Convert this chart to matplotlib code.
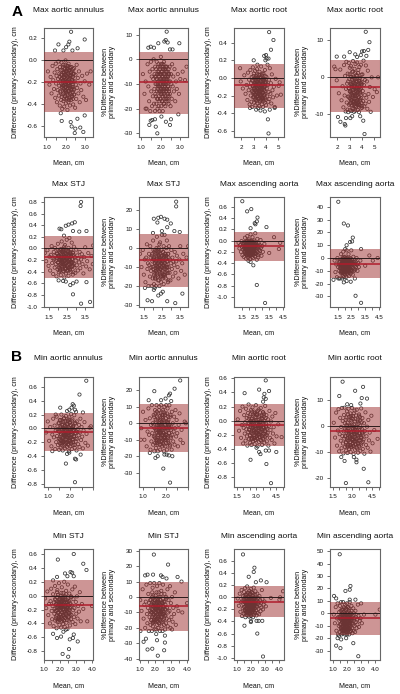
import matplotlib
matplotlib.use("Agg")
import matplotlib.pyplot as plt

plt.rcParams['font.family'] = ['Liberation Sans', 'DejaVu Sans']

W, H = 400, 694

# ---- core point clouds: mean (cm x100), difference (cm x100), percent difference ----
a1_x = [108,116,122,127,132,136,140,143,146,149,
151,153,155,157,159,161,163,165,167,168,
170,171,173,174,176,177,179,180,181,183,
184,185,186,188,189,190,191,192,193,195,
196,197,198,199,200,201,202,203,204,205,
206,207,208,209,210,211,212,213,214,215,
216,217,218,219,220,222,223,224,225,226,
228,229,230,232,233,235,236,238,240,241,
243,245,246,248,250,252,254,256,258,261,
264,267,270,274,278,282,287,293,300,312,
170,172,175,178,180,182,184,186,187,189,
190,191,193,194,195,196,197,198,199,200,
201,202,203,204,205,206,207,208,209,210,
211,212,213,214,215,216,217,218,219,220,
221,222,223,224,225,226,227,228,229,230,
231,232,233,234,235,236,237,238,239,240,
241,242,243,244,178,186,194,202,210,218]
a1_d = [-10,-22,-15,-30,-5,-18,-26,-11,-34,-3,
-21,-14,-38,-8,-27,-17,-1,-32,-23,-12,
-41,-6,-19,-29,-13,-36,-2,-24,-16,-44,
-9,-31,-20,-4,-37,-15,-26,-11,-42,-7,
-22,-33,-18,-28,0,-13,-39,-24,-10,-35,
-19,-5,-30,-16,-45,-8,-25,-21,-12,-38,
-3,-28,-17,-34,-9,-23,-41,-14,-29,-6,
-20,-36,-11,-26,-18,-33,-15,-24,-40,-12,
-27,-7,-31,-19,-43,-13,-22,-35,-4,-25,
-16,-30,-10,-38,-21,-27,-14,-33,-19,-12,
-15,-28,-9,-21,-33,-13,-25,-6,-18,-30,
-11,-23,-35,-16,-8,-27,-20,-32,-12,-4,
-24,-17,-29,-10,-22,-14,-34,-7,-26,-19,
-31,-15,-5,-23,-12,-28,-18,-36,-9,-21,
-13,-30,-25,-7,-16,-33,-11,-20,-27,-14,
-6,-24,-18,-32,-10,-22,-29,-15,-35,-8,
-19,-26,-12,-31,-17,-23,-13,-27,-9,-21]
a1_p = [-6,-14,-9,-20,-2,-11,-17,-5,-21,-1,
-13,-7,-19,-4,-15,-8,0,-18,-12,-6,
-21,-3,-10,-15,-7,-18,-1,-13,-8,-20,
-5,-16,-10,-2,-19,-7,-13,-6,-21,-3,
-11,-16,-9,-14,1,-6,-19,-12,-5,-17,
-9,-2,-14,-8,-21,-4,-12,-10,-6,-18,
-1,-13,-8,-16,-4,-11,-19,-7,-13,-3,
-9,-17,-5,-12,-8,-15,-7,-11,-18,-6,
-12,-3,-14,-9,-19,-6,-10,-16,-2,-11,
-7,-13,-4,-17,-9,-12,-6,-14,-8,-5,
-7,-14,-4,-10,-16,-6,-12,-3,-9,-15,
-5,-11,-17,-8,-4,-13,-10,-16,-6,-2,
-12,-8,-14,-5,-11,-7,-17,-3,-13,-9,
-15,-7,-2,-11,-6,-14,-9,-18,-4,-10,
-6,-15,-12,-3,-8,-16,-5,-10,-13,-7,
-3,-12,-9,-16,-5,-11,-14,-7,-17,-4,
-9,-13,-6,-15,-8,-11,-6,-13,-4,-10]

a2_x = [195,212,224,234,242,249,254,259,263,267,
270,273,276,279,282,284,286,288,291,293,
295,297,299,301,303,305,307,309,311,313,
315,317,319,320,322,324,326,327,329,331,
333,334,336,337,339,341,342,344,345,347,
349,350,352,354,355,357,358,360,362,363,
365,367,368,370,372,373,375,377,379,381,
383,385,387,389,391,393,395,398,400,403,
406,409,412,415,418,421,424,427,431,435,
439,443,447,452,457,463,470,478,488,502,
288,292,296,299,302,305,308,310,313,315,
317,319,321,323,325,327,329,331,332,334,
336,338,339,341,343,345,346,348,350,352,
353,355,357,359,360,362,364,366,368,370,
372,374,376,378,380,382,384,386,388,391,
393,395,397,300,312,324,336,348,360,372,
384,396,306,318,330,342,354,366,378,390]
a2_d = [-4,-12,3,-18,-8,-25,6,-14,-2,-30,
-10,9,-20,-6,-27,1,-15,-33,-9,12,
-22,-3,-17,5,-28,-11,-1,-24,8,-13,
-31,-7,-19,2,-26,-5,-16,10,-29,-12,
-21,-2,-34,-9,4,-23,-14,-6,-32,7,
-18,-11,-27,0,-15,-4,-25,13,-20,-8,
-30,3,-13,-22,-1,-17,-33,-7,5,-26,
-10,-19,-3,-28,9,-15,-23,-5,-31,1,
-12,-21,15,-8,-27,-16,-2,-24,11,-18,
-6,-29,4,-14,-22,-10,-33,-1,-20,-9,
-3,-16,-9,2,-22,-12,-6,-19,0,-14,
-25,-8,-2,-17,-11,4,-21,-5,-13,-24,
-7,-18,-1,-10,-23,-15,3,-6,-20,-12,
-26,-4,-16,-9,1,-19,-13,-22,-7,5,
-11,-17,-3,-24,-8,-14,-1,-20,-10,-5,
-18,2,-25,-12,-6,-15,-21,-2,-9,-23,
-13,-4,-19,-7,0,-16,-11,-24,-3,-10]
a2_p = [-0.8,-4.3,2.1,-6.2,-2.4,-8.1,3.3,-4.9,0.4,-9.2,
-3.1,4.2,-6.8,-1.7,-8.7,1.0,-5.2,-9.4,-2.9,3.9,
-7.4,-0.5,-5.6,2.6,-8.9,-3.6,0.2,-7.0,3.0,-4.2,
-9.1,-2.0,-6.1,1.5,-8.3,-1.2,-5.0,4.4,-8.6,-3.3,
-6.5,-0.1,-9.3,-2.7,2.3,-7.7,-4.6,-1.6,-9.0,3.6,
-5.8,-3.0,-8.0,0.6,-4.4,-1.0,-7.2,4.0,-6.3,-2.2,
-8.8,1.2,-4.0,-6.7,-0.3,-5.4,-9.4,-2.5,2.8,-7.5,
-3.4,-5.9,-1.4,-8.4,3.4,-4.7,-6.9,-1.9,-8.2,0.8,
-3.7,-6.4,4.5,-2.1,-7.8,-4.8,-0.7,-7.1,3.2,-5.5,
-1.1,-8.5,1.8,-4.5,-6.6,-2.6,-9.3,0.0,-5.3,-3.2,
-1.1,-5.2,-3.0,0.8,-7.1,-3.9,-1.9,-6.2,0.1,-4.5,
-7.6,-2.6,-0.7,-5.5,-3.5,1.6,-6.8,-1.5,-4.2,-7.3,
-2.2,-5.8,-0.3,-3.2,-7.0,-4.8,1.1,-1.8,-6.4,-3.7,
-7.8,-1.3,-5.0,-2.8,0.4,-6.0,-4.0,-6.9,-2.1,2.0,
-3.4,-5.4,-0.9,-7.4,-2.4,-4.4,-0.2,-6.3,-3.1,-1.6,
-5.6,0.7,-7.7,-3.8,-1.7,-4.7,-6.6,-0.5,-2.7,-7.2,
-4.1,-1.2,-5.9,-2.3,0.2,-5.1,-3.3,-7.5,-1.0,-3.0]

a3_x = [128,136,143,149,154,158,162,166,169,172,
175,178,180,183,185,187,189,191,193,195,
197,199,201,203,204,206,208,209,211,213,
214,216,217,219,220,222,223,225,226,228,
229,231,232,234,235,237,238,240,241,243,
244,246,247,249,250,252,253,255,257,258,
260,262,263,265,267,268,270,272,274,276,
278,280,282,284,286,288,290,293,295,298,
300,303,306,309,312,315,319,322,326,330,
334,338,343,348,353,358,364,370,378,388,
197,200,203,206,208,210,212,214,216,218,
220,221,223,224,226,227,229,230,232,233,
235,236,238,239,241,242,244,245,247,248,
250,251,253,254,256,257,259,260,262,264,
265,267,269,271,273,275,277,279,281,284,
287,205,215,225,235,245,255,265,275,285,
202,213,222,231,240,249,258,268,278,288]
a3_d = [-8,-22,-3,-30,-14,-38,-11,4,-25,-17,
-44,-6,-19,-33,1,-12,-27,-21,-48,-9,
-16,-36,8,-24,-13,-41,-5,-29,-18,-2,
-35,-20,-46,-10,-26,12,-15,-32,-7,-23,
-39,-17,-1,-28,-12,-50,-21,6,-34,-14,
-25,-43,-9,-19,15,-31,-16,-37,-4,-22,
-47,-11,-27,18,-20,-35,-6,-40,-13,-24,
10,-30,-18,-45,-8,-26,3,-33,-15,-42,
-21,-2,-29,-12,-38,-17,-24,-6,-34,-19,
-10,-27,-43,-15,2,-31,-22,-8,-36,-13,
-9,-24,-3,-33,-14,-20,-38,-7,-28,-17,
-1,-30,-12,-23,-36,-5,-19,-26,-10,-40,
-15,3,-31,-21,-8,-27,-13,-35,-18,-4,
-25,-11,-39,-16,-29,-6,-22,1,-34,-13,
-20,-37,-9,-26,-15,-2,-32,-18,-24,-7,
-41,-12,-28,-20,-5,-35,-16,-23,-10,-30,
-14,-38,-21,-3,-27,-17,-33,-8,-25,-11]
a3_p = [-3,-10,-1,-14,-6,-18,-5,2,-11,-8,
-20,-3,-9,-15,1,-5,-12,-10,-20,-4,
-7,-16,4,-11,-6,-19,-2,-13,-8,-1,
-15,-9,-20,-4,-11,6,-6,-14,-3,-10,
-17,-7,0,-12,-5,-20,-9,3,-14,-6,
-10,-18,-4,-8,7,-13,-6,-15,-2,-9,
-19,-4,-11,7,-8,-14,-3,-16,-5,-9,
4,-12,-7,-18,-3,-10,1,-13,-6,-17,
-8,-1,-11,-5,-15,-7,-9,-2,-13,-7,
-4,-10,-16,-6,1,-12,-8,-3,-14,-5,
-3,-10,-1,-14,-6,-8,-16,-3,-12,-7,
0,-13,-5,-10,-15,-2,-8,-11,-4,-17,
-6,2,-13,-9,-3,-11,-5,-15,-8,-1,
-10,-4,-16,-7,-12,-2,-9,1,-14,-5,
-8,-15,-4,-11,-6,0,-13,-7,-10,-3,
-17,-5,-12,-8,-2,-15,-7,-10,-4,-13,
-6,-16,-9,-1,-11,-7,-14,-3,-10,-5]

a4_x = [128,134,140,145,149,153,156,159,162,164,
166,168,170,172,174,176,177,179,180,182,
183,184,186,187,188,190,191,192,193,195,
196,197,198,199,200,202,203,204,205,206,
207,209,210,211,212,213,214,215,217,218,
219,220,221,222,223,224,226,227,228,229,
230,231,232,233,235,236,237,238,239,241,
242,243,245,246,247,249,250,252,253,255,
257,258,260,262,264,266,268,270,272,274,
276,278,281,284,287,290,294,298,304,315,
168,171,173,175,177,179,181,183,185,186,
188,189,191,192,193,194,196,197,198,200,
201,202,203,204,206,207,208,209,210,211,
213,214,215,216,217,219,220,221,222,224,
225,226,228,229,231,232,234,235,237,239,
241,243,245,247,249,178,184,190,196,202,
208,214,220,226,232,238,186,198,210,222]
a4_d = [-4,-14,-8,-20,-1,-11,-26,-6,-16,-10,
-29,-3,-13,-19,5,-9,-23,-15,-7,-32,
-11,-2,-18,-25,-6,-12,8,-21,-16,-9,
-30,-4,-14,-24,-8,-19,2,-11,-27,-6,
-17,-13,-33,-9,-22,-3,-15,11,-20,-7,
-26,-12,-1,-18,-10,-29,-5,-23,-14,6,
-8,-20,-16,-31,-3,-12,-25,-9,-18,0,
-13,-22,-6,-28,-11,13,-17,-4,-24,-10,
-19,-7,-34,-14,3,-21,-9,-26,-12,-5,
-16,-23,-8,-18,1,-13,-27,-10,-20,-6,
-6,-15,-10,-21,-3,-13,-24,-8,-17,-11,
-26,-5,-19,-12,0,-22,-9,-16,-7,-25,
-13,-3,-20,-10,-18,-6,-23,-14,-1,-11,
-21,-8,-16,-26,-4,-12,-19,-7,-24,-15,
-2,-10,-22,-13,-17,-5,-25,-9,-18,-11,
-20,-4,-14,-23,-7,-16,-10,-1,-19,-12,
-26,-6,-15,-21,-9,-3,-13,-18,-8,-11]
a4_p = [-2,-11,-5,-15,0,-7,-16,-3,-10,-6,
-16,-2,-8,-11,3,-5,-12,-8,-4,-16,
-6,-1,-9,-14,-3,-6,5,-11,-8,-5,
-15,-2,-7,-12,-4,-9,1,-5,-13,-3,
-8,-6,-15,-4,-10,-1,-7,6,-9,-3,
-12,-5,0,-8,-4,-13,-2,-10,-6,3,
-3,-9,-7,-14,-1,-5,-11,-4,-8,0,
-5,-10,-2,-12,-4,6,-7,-1,-10,-4,
-8,-3,-13,-5,1,-9,-3,-10,-5,-2,
-6,-9,-3,-7,0,-5,-10,-4,-7,-2,
-3,-7,-5,-10,-1,-6,-11,-4,-8,-5,
-12,-2,-9,-6,1,-10,-4,-7,-3,-11,
-6,-1,-9,-5,-8,-3,-10,-6,0,-5,
-9,-4,-7,-11,-2,-5,-8,-3,-10,-6,
-1,-4,-9,-5,-7,-2,-10,-4,-7,-5,
-8,-2,-6,-9,-3,-6,-4,0,-7,-5,
-10,-3,-6,-8,-4,-1,-5,-7,-3,-4]

b1_x = [92,100,106,111,116,120,124,127,130,133,
135,137,139,141,143,145,147,148,150,151,
153,154,156,157,158,160,161,162,163,165,
166,167,168,169,170,172,173,174,175,176,
177,178,179,180,181,183,184,185,186,187,
188,189,190,191,193,194,195,196,197,198,
199,200,202,203,204,205,206,208,209,210,
212,213,214,216,217,219,220,222,223,225,
227,228,230,232,234,236,238,240,242,244,
247,249,252,255,258,262,266,271,277,285,
147,149,152,154,156,158,159,161,162,164,
165,166,168,169,170,171,172,173,175,176,
177,178,179,180,182,183,184,185,186,187,
189,190,191,192,193,195,196,197,198,199,
201,202,203,205,206,207,209,210,212,213,
215,217,219,221,223,225,155,163,171,179,
187,195,203,211,160,174,188,200,215,178]
b1_d = [-6,10,-18,2,-26,-9,14,-13,4,-30,
-3,-20,17,-11,-1,-24,7,-15,-31,-5,
12,-17,1,-28,-8,20,-12,-22,5,-2,
-32,-14,9,-19,-6,15,-25,0,-10,-29,
3,-16,-4,18,-21,-9,6,-27,-13,-1,
11,-23,-7,2,-33,-11,16,-18,-3,8,
-26,-14,-5,21,-20,0,-30,-9,13,-16,
4,-24,-2,-12,19,-28,-7,7,-19,-4,
-32,10,-15,-1,-23,-10,5,-27,-6,14,
-17,2,-12,-29,-3,9,-21,-8,-25,1,
-4,8,-15,-22,3,-9,-18,12,-1,-25,
-7,6,-13,-20,0,14,-11,-17,4,-6,
-23,10,-2,-16,-8,2,-21,-12,7,-4,
-19,-10,13,-24,1,-14,-5,9,-18,-2,
-9,5,-22,-13,11,-6,-16,0,-20,3,
-11,-3,-24,8,-15,-7,12,-19,-1,-10,
6,-17,-5,2,-21,-8,10,-14,-3,-12]
b1_p = [-3,7,-10,2,-14,-5,9,-7,3,-16,
-1,-11,11,-6,0,-13,5,-8,-17,-3,
8,-9,1,-15,-4,11,-6,-12,4,-1,
-17,-7,6,-10,-3,10,-13,1,-5,-16,
3,-8,-2,11,-11,-4,5,-14,-7,0,
8,-12,-3,2,-17,-6,10,-9,-1,6,
-14,-7,-2,11,-10,1,-16,-4,9,-8,
4,-12,-1,-6,11,-14,-3,5,-9,-2,
-16,7,-7,0,-11,-5,4,-13,-3,8,
-8,2,-6,-14,-1,6,-10,-4,-12,1,
-2,4,-8,-12,2,-5,-10,7,-1,-13,
-4,3,-7,-11,0,8,-6,-9,2,-3,
-13,6,-1,-9,-4,1,-11,-7,4,-2,
-10,-6,7,-13,1,-8,-3,5,-10,-1,
-5,3,-12,-7,6,-3,-9,0,-11,2,
-6,-2,-13,4,-8,-4,6,-10,-1,-5,
3,-9,-3,1,-11,-4,5,-7,-2,-6]

b2_x = [158,168,176,183,189,194,199,203,207,211,
214,217,220,223,226,228,231,233,235,238,
240,242,244,246,248,250,252,254,256,258,
260,262,264,266,268,270,272,274,276,278,
280,282,284,286,288,290,292,294,296,298,
300,302,304,306,308,310,312,314,316,319,
321,323,325,328,330,332,335,337,340,342,
345,347,350,352,355,358,360,363,366,369,
372,375,378,381,384,387,390,394,398,402,
406,410,415,420,425,430,436,443,452,465,
242,246,250,254,257,260,263,266,269,271,
274,276,279,281,283,285,288,290,292,294,
296,298,300,302,304,306,308,310,312,314,
316,318,320,322,324,326,328,331,333,335,
338,340,343,345,348,351,354,357,360,363,
366,370,374,378,255,268,280,293,305,318,
330,343,356,369,262,287,301,325,349,372]
b2_d = [2,-14,14,-24,-6,20,-32,-10,8,-18,
-2,-28,17,-12,4,-22,-35,-7,11,-16,
23,-4,-26,-13,6,-20,-31,0,-9,15,
-17,-34,3,-24,-11,19,-6,-29,9,-15,
-1,-21,13,-33,-8,5,-27,-12,22,-18,
-3,-25,10,-14,-36,1,-20,-7,16,-30,
-10,7,-23,-16,-2,18,-28,-12,4,-34,
-19,-5,12,-26,-9,0,-31,-15,21,-21,
-4,8,-29,-11,-17,2,-35,-7,14,-24,
-13,-1,-27,6,-18,-9,-32,11,-22,-5,
3,-12,-21,9,-6,-26,-15,13,-3,-18,
-9,6,-24,-13,0,-20,11,-7,-27,-16,
1,-11,-22,8,-4,-17,-25,14,-10,-2,
-19,5,-14,-23,-8,12,-1,-27,-16,-6,
-21,7,-12,2,-25,-10,-18,10,-5,-14,
-23,4,-8,-20,-2,-26,-13,9,-17,-4,
-11,-22,6,-15,0,-24,-7,-19,12,-9]
b2_p = [1.2,-4.5,5.1,-7.6,-1.8,6.4,-9.8,-3.2,3.1,-5.7,
-0.4,-8.6,6.9,-3.9,1.9,-6.8,-10.6,-2.1,4.2,-4.9,
7.0,-1.1,-8.1,-4.1,2.4,-6.2,-9.5,0.3,-2.7,5.6,
-5.3,-10.4,1.3,-7.4,-3.4,6.6,-1.9,-8.9,3.5,-4.6,
-0.2,-6.4,4.8,-10.1,-2.4,2.1,-8.3,-3.7,6.9,-5.5,
-0.9,-7.7,3.8,-4.3,-10.8,0.6,-6.1,-2.2,5.9,-9.2,
-3.1,2.7,-7.1,-5.0,-0.6,6.2,-8.7,-3.6,1.6,-10.3,
-5.8,-1.5,4.4,-8.0,-2.8,0.1,-9.6,-4.7,6.7,-6.5,
-1.2,3.0,-8.9,-3.3,-5.2,1.0,-10.7,-2.0,5.2,-7.3,
-4.0,-0.3,-8.4,2.3,-5.6,-2.6,-9.9,3.9,-6.7,-1.6,
1.0,-3.8,-6.5,3.2,-1.9,-7.9,-4.7,4.4,-0.9,-5.6,
-2.8,2.1,-7.4,-4.1,0.2,-6.2,3.7,-2.3,-8.1,-5.0,
0.5,-3.5,-6.9,2.7,-1.2,-5.3,-7.7,4.8,-3.1,-0.6,
-5.9,1.7,-4.4,-7.1,-2.5,4.0,-0.3,-8.3,-5.1,-1.8,
-6.6,2.4,-3.7,0.8,-7.6,-3.0,-5.5,3.4,-1.5,-4.3,
-7.2,1.4,-2.6,-6.1,-0.7,-8.0,-4.0,3.0,-5.2,-1.3,
-3.4,-6.8,2.0,-4.6,0.0,-7.5,-2.2,-5.8,3.9,-2.9]

b3_x = [104,112,119,125,130,135,139,143,146,149,
152,155,158,160,163,165,167,169,171,173,
175,177,179,181,182,184,186,187,189,190,
192,194,195,197,198,200,201,203,204,205,
207,208,210,211,213,214,215,217,218,220,
221,222,224,225,227,228,230,231,233,234,
236,237,239,240,242,244,245,247,248,250,
252,254,255,257,259,261,263,265,267,269,
271,273,276,278,281,283,286,289,292,295,
298,301,305,309,313,318,323,329,336,345,
167,170,173,175,177,179,181,183,185,186,
188,190,191,193,195,196,198,199,201,202,
204,205,207,208,210,211,213,214,216,217,
219,220,222,223,225,226,228,230,231,233,
235,236,238,240,242,244,246,248,250,252,
255,258,261,264,268,175,185,195,205,215,
225,235,245,255,180,192,206,218,232,247]
b3_d = [-4,-18,6,-28,-12,-40,-8,10,-22,-34,
-15,2,-44,-10,-26,-19,14,-36,-6,-30,
-13,-47,-2,-21,8,-38,-16,-25,-9,-33,
18,-11,-42,-5,-27,-17,0,-31,-20,-46,
-7,-14,12,-37,-24,-3,-29,-12,-41,4,
-19,-35,-9,20,-23,-45,-15,-1,-32,-10,
-27,7,-39,-17,-6,-22,-48,-13,16,-30,
-8,-36,-20,3,-25,-43,-11,-16,-34,-2,
-28,-14,9,-38,-21,-5,-31,-18,13,-41,
-9,-26,-1,-33,-15,-23,5,-37,-12,-19,
-5,-22,-12,-33,-17,-28,-8,-36,-14,1,
-25,-10,-19,-31,-6,-15,-35,-21,-3,-27,
-12,-18,4,-30,-9,-24,-34,-16,-7,-20,
-28,-2,-13,-36,-23,-11,-17,-32,-6,-26,
-15,-21,2,-29,-10,-35,-19,-4,-24,-13,
-31,-8,-18,-27,-1,-22,-34,-12,-16,-5,
-30,-20,-9,-25,5,-33,-14,-7,-23,-17]
b3_p = [-2,-9,5,-14,-5,-20,-3,8,-11,-17,
-7,2,-22,-4,-13,-9,9,-18,-2,-15,
-6,-22,0,-10,6,-19,-8,-12,-4,-16,
9,-5,-21,-2,-13,-8,1,-15,-10,-21,
-3,-7,7,-18,-12,-1,-14,-6,-20,3,
-9,-17,-4,9,-11,-22,-7,0,-16,-5,
-13,4,-19,-8,-3,-11,-22,-6,8,-15,
-3,-18,-10,2,-12,-21,-5,-8,-17,-1,
-14,-7,5,-19,-10,-2,-15,-9,7,-20,
-4,-13,0,-16,-7,-11,3,-18,-6,-9,
-2,-10,-5,-15,-8,-13,-3,-17,-6,1,
-11,-4,-9,-14,-2,-7,-16,-10,-1,-12,
-5,-8,3,-14,-4,-11,-16,-7,-3,-9,
-13,0,-6,-17,-10,-5,-8,-15,-2,-12,
-7,-10,2,-13,-4,-16,-9,-1,-11,-6,
-14,-3,-8,-12,0,-10,-16,-5,-7,-2,
-14,-9,-4,-11,3,-15,-6,-3,-10,-8]

b4_x = [108,116,122,127,131,135,138,141,143,146,
148,150,152,154,155,157,159,160,162,163,
165,166,167,169,170,171,172,174,175,176,
177,178,180,181,182,183,184,186,187,188,
189,190,191,192,194,195,196,197,198,199,
200,201,203,204,205,206,207,209,210,211,
213,214,215,216,218,219,220,222,223,225,
226,228,229,231,232,234,235,237,239,241,
243,245,247,249,251,253,255,258,260,262,
265,268,271,274,277,281,285,290,296,305,
152,155,157,159,161,163,165,167,168,170,
171,173,174,176,177,179,180,181,183,184,
185,187,188,189,190,192,193,194,195,197,
198,199,200,202,203,204,206,207,208,210,
211,213,214,216,217,219,221,223,225,227,
229,232,235,160,170,180,190,200,210,220,
166,176,186,196,206,216,226,178,192,204]
b4_d = [-2,-14,6,-24,-8,12,-31,-5,-18,2,
-11,-27,9,-16,-3,-22,15,-9,-33,-6,
-19,4,-13,-29,-1,-25,-10,18,-15,-7,
-30,1,-21,-12,7,-26,-4,-17,-32,-8,
11,-20,-14,-2,-28,5,-10,-23,-6,-16,
14,-31,-11,-1,-19,-27,8,-13,-5,-24,
-9,3,-33,-15,-7,-21,16,-12,-29,-3,
-18,-25,0,-10,10,-14,-6,-22,-30,-4,
-16,6,-26,-11,-1,-19,-8,-28,2,-13,
-5,-23,-9,-17,12,-3,-20,-12,-7,-15,
-5,-16,3,-21,-9,-26,-1,-13,-18,5,
-7,-24,-11,-3,-19,8,-14,-25,-6,-10,
-22,1,-16,-4,-12,-26,-8,-20,6,-2,
-15,-23,-7,-11,-18,2,-25,-5,-13,-9,
-21,7,-3,-17,-24,-10,-1,-14,-19,-6,
-26,4,-12,-8,-22,-16,0,-20,-5,-11,
-24,-2,-15,-9,9,-18,-7,-13,-23,-4]
b4_p = [-1,-8,5,-14,-4,8,-17,-3,-10,1,
-6,-15,6,-9,-2,-12,9,-5,-17,-3,
-11,3,-7,-16,0,-14,-6,9,-8,-4,
-16,1,-12,-7,4,-14,-2,-9,-17,-5,
7,-11,-8,-1,-15,3,-6,-13,-3,-9,
8,-17,-6,0,-11,-15,5,-7,-3,-13,
-5,2,-17,-8,-4,-12,9,-7,-15,-2,
-10,-14,0,-5,6,-8,-3,-12,-16,-2,
-9,4,-14,-6,0,-10,-4,-15,2,-7,
-3,-12,-5,-9,7,-2,-11,-6,-4,-8,
-3,-9,2,-12,-5,-14,-1,-7,-10,3,
-4,-13,-6,-2,-11,5,-8,-14,-3,-6,
-12,0,-9,-2,-7,-14,-4,-11,4,-1,
-8,-13,-4,-6,-10,1,-14,-3,-7,-5,
-12,4,-2,-9,-13,-5,0,-8,-11,-3,
-14,2,-6,-4,-12,-9,0,-11,-3,-6,
-13,-1,-8,-5,5,-10,-4,-7,-12,-2]

# ---- outlying points read individually: (mean cm, value) ----
a1_d_out = [(2.29,.26),(3.0,.19),(2.2,.17),(2.15,.145),(1.63,.145),(2.63,.11),(2.03,.12),(2.36,.09),(1.45,.09),(1.89,.09),(1.75,-.48),(1.8,-.55),(2.27,-.56),(2.32,-.6),(2.62,-.53),(2.51,-.62),(2.77,-.61),(2.48,-.66),(2.93,-.65),(3.0,-.5),(3.31,-.1),(3.24,-.22),(3.07,-.36)]
a1_p_out = [(2.3,11.2),(2.95,6.5),(2.18,7.2),(2.25,7.8),(2.35,6.8),(1.87,6.5),(1.36,4.7),(1.48,5.1),(1.65,4.7),(2.47,4),(2.6,4),(1.41,-26.6),(1.56,-24.6),(1.7,-24.3),(1.48,-24.9),(1.74,-27.3),(1.82,-30),(2.03,-23.2),(2.26,-25.3),(2.47,-26.6),(2.52,-24.3),(2.9,-22.3),(1.22,-20),(3.32,-3),(3.24,-8.4)]
a2_d_out = [(4.25,.52),(4.6,.43),(4.4,.32),(4.0,.26),(3.85,.25),(4.05,.22),(4.2,.22),(3.95,.2),(3.0,.2),(3.3,.15),(4.15,-.47),(4.2,-.63),(3.9,-.38),(3.55,-.37),(3.2,-.36),(4.3,-.36),(2.7,-.34),(4.7,-.34),(5.2,-.19),(5.1,-.05),(1.9,.11)]
a2_p_out = [(4.3,12.3),(4.6,9.5),(4.5,7.4),(4.0,7),(4.15,7.1),(4.35,5.8),(3.0,6.8),(1.95,5.6),(2.55,5.6),(3.45,6.2),(3.9,6),(3.6,5.5),(1.75,2.9),(1.85,2.2),(2.05,-10.7),(2.25,-12),(2.6,-12.6),(2.65,-13),(2.7,-11),(3.05,-11),(3.2,-10.5),(4.1,-11.7),(4.2,-15.3),(3.85,-10.5),(5.2,-4),(5.3,0)]
a3_d_out = [(3.3,.8),(3.27,.73),(2.95,.45),(2.8,.43),(2.6,.41),(2.45,.39),(2.2,.33),(2.1,.34),(3.2,.29),(3.6,.3),(2.85,.3),(2.35,.22),(2.05,-.55),(2.3,-.56),(2.45,-.57),(2.7,-.63),(2.85,-.6),(3.05,-.57),(3.6,-.58),(2.85,-.79),(3.3,-.95),(3.8,-.92),(3.97,.05),(3.95,-.27)]
a3_p_out = [(3.3,24.5),(3.3,22),(2.05,15.5),(2.3,16),(2.45,16.5),(2.65,15.5),(2.8,15),(2.25,13.5),(3.0,13),(2.0,8),(2.5,9),(3.2,9),(3.5,8.5),(2.8,11),(1.7,-27.5),(1.95,-28),(2.05,-22),(2.3,-25),(2.45,-24),(2.8,-28),(3.25,-29),(3.65,-24),(2.55,-23),(1.55,-21),(3.97,1),(2.1,-21)]
a4_d_out = [(1.55,.7),(1.9,.52),(2.2,.56),(2.65,.41),(2.6,.34),(2.45,.31),(2.5,.29),(2.15,.22),(3.3,.24),(3.85,.06),(4.2,-.15),(3.5,-.22),(4.3,-.04),(2.35,-.44),(2.15,-.38),(2.0,-.36),(2.6,-.79),(3.2,-1.11),(2.7,-.3)]
a4_p_out = [(1.55,44),(1.95,27),(2.25,25.5),(2.6,16),(2.55,13),(2.4,12.5),(2.15,10),(2.05,7),(3.2,7),(3.8,2),(4.4,0),(4.05,-2),(3.5,-6),(1.95,-19),(2.15,-18),(2.45,-18.5),(2.8,-29.5),(3.2,-35),(2.75,-16),(1.2,-17)]
b1_d_out = [(2.7,.69),(2.4,.49),(1.55,.3),(2.1,.35),(2.15,.33),(2.05,.3),(1.95,.27),(1.85,.25),(2.2,.27),(2.25,.24),(2.55,.23),(1.35,.2),(1.8,-.51),(1.95,-.35),(2.2,-.44),(2.25,-.45),(2.2,-.78),(1.85,-.37),(2.45,-.38),(2.9,.03),(1.2,-.33)]
b1_p_out = [(2.65,26),(2.4,21),(1.5,19.5),(2.2,18),(2.15,17),(2.0,15),(1.8,14),(1.25,14),(2.25,13.5),(1.9,-27.5),(2.2,-36),(1.55,-21),(1.65,-20),(1.95,-19),(2.05,-19),(2.15,-19.5),(2.3,-20),(2.9,0),(1.3,-18),(.9,-10)]
b2_d_out = [(3.7,.57),(3.2,.44),(3.95,.42),(2.1,.39),(3.6,.38),(3.55,.33),(3.7,.31),(3.5,.27),(2.55,-.55),(3.75,-.61),(4.1,-.88),(4.5,-.44),(3.2,-.44),(3.3,-.47),(3.95,-.42),(3.7,-.42),(3.0,-.38),(4.9,-.23)]
b2_p_out = [(2.25,17),(3.8,15),(3.2,13.5),(2.0,11.5),(3.7,10.7),(4.1,10.5),(3.6,8.6),(2.6,8.3),(2.9,8),(2.15,-12),(2.4,-13.5),(3.3,-13),(3.3,-14),(3.85,-16.5),(2.5,-22),(4.2,-21.7),(3.1,-12),(4.9,-5)]
b3_d_out = [(1.85,.52),(2.85,.6),(3.45,.46),(3.65,.37),(2.65,.34),(2.75,.33),(2.3,.32),(2.45,.28),(1.8,.27),(1.55,.22),(2.85,.28),(1.55,-.55),(1.8,-.61),(2.05,-.59),(2.2,-.52),(2.35,-.49),(2.6,-.63),(2.8,-.61),(2.85,-.56),(3.1,-.66),(2.15,-.84),(2.55,-.77),(2.5,-.88),(3.7,-.37),(4.0,-.15)]
b3_p_out = [(1.9,27.5),(2.8,21),(1.35,14),(1.5,14.5),(1.85,14.5),(2.35,14),(2.45,13),(3.4,13),(3.65,10),(2.7,12),(1.25,-29),(1.4,-27),(1.5,-34),(1.8,-33.5),(2.05,-24),(2.1,-28),(2.15,-38),(2.55,-34.5),(2.6,-29.5),(2.6,-25),(3.05,-21),(3.7,-10),(4.0,-4),(1.05,-22)]
b4_d_out = [(1.45,.71),(2.25,.49),(2.2,.42),(1.85,.34),(2.7,.28),(2.35,.25),(3.1,.25),(1.55,-.47),(2.0,-.41),(2.0,-.39),(2.4,-.39),(2.55,-.39),(2.8,-.39),(2.45,-.6),(2.85,-.98),(4.25,.1),(4.05,.0),(4.0,-.04),(3.4,-.01)]
b4_p_out = [(1.5,47.5),(2.25,22),(2.2,19),(1.9,18),(1.1,14),(1.25,12),(2.6,11),(2.2,11),(3.0,8),(1.25,-26),(1.35,-20),(1.6,-21),(1.55,-28),(1.95,-20),(2.45,-24),(2.8,-34.5),(4.3,3),(4.0,-1),(3.2,-1),(1.45,-18)]

# ---- summary lines: upper limit, mean, lower limit ----
a1_d_s = (.079,-.194,-.473); a1_p_s = (3.1,-9.3,-22.3)
a2_d_s = (.162,-.083,-.336); a2_p_s = (4.6,-2.5,-9.4)
a3_d_s = (.213,-.155,-.517); a3_p_s = (7.5,-6.3,-20.4)
a4_d_s = (.154,-.10,-.36);   a4_p_s = (7.0,-4.4,-15.8)
b1_d_s = (.222,-.053,-.328); b1_p_s = (11.5,-2.6,-17.2)
b2_d_s = (.236,-.06,-.358);  b2_p_s = (7.2,-1.8,-10.9)
b3_d_s = (.226,-.13,-.48);   b3_p_s = (9.7,-5.8,-22.0)
b4_d_s = (.193,-.072,-.33);  b4_p_s = (9.4,-4.0,-17.2)

names = ["Max aortic annulus", "Max aortic root", "Max STJ", "Max ascending aorta",
         "Min aortic annulus", "Min aortic root", "Min STJ", "Min ascending aorta"]
ylabel_d = "Difference (primary-secondary), cm"
ylabel_p = "%Difference between\nprimary and secondary"
xlabel = "Mean, cm"

BAND = '#a03535'
EDGE = '#333333'

fig = plt.figure(figsize=(W/100, H/100), dpi=100, facecolor='white')

def panel(col, row, name, ylabel, xs, ys, scale, out, s, xlim, ylim, xticks, xlabs, yticks, ylabs):
    lefts = [43.7, 139.0, 234.3, 330.3]
    rights = [93.3, 188.3, 283.7, 379.7]
    tops = [27.7, 197.3, 377.0, 549.3]
    bottoms = [136.8, 306.9, 486.7, 659.7]
    ylx = [16, 109, 208, 302]
    tty = [10, 185, 359, 536]
    l, r, t, b = lefts[col], rights[col], tops[row], bottoms[row]
    ax = fig.add_axes([l/W, 1-b/H, (r-l)/W, (b-t)/H])
    ax.scatter([v/100 for v in xs] + [p[0] for p in out],
               [v/scale for v in ys] + [p[1] for p in out],
               s=5.5, facecolors='none', edgecolors=EDGE, linewidths=0.55, zorder=2)
    ax.axhspan(s[2], s[0], facecolor=BAND, alpha=0.52, lw=0, zorder=3)
    ax.axhline(0, color='#2a1a1a', lw=0.7, zorder=4)
    ax.axhline(s[1], color='#b01c2c', lw=1.1, zorder=5)
    ax.set_xlim(*xlim); ax.set_ylim(*ylim)
    ax.set_xticks(xticks); ax.set_xticklabels(xlabs)
    ax.set_yticks(yticks); ax.set_yticklabels(ylabs)
    ax.tick_params(length=2.2, width=0.5, labelsize=4.5, color='#333333', labelcolor='#111111')
    ax.tick_params(axis='x', pad=3.4)
    ax.tick_params(axis='y', pad=2.4)
    for sp in ax.spines.values():
        sp.set_color('#666666'); sp.set_linewidth(0.8)
    xc = (l+r)/2
    fig.text(xc/W, 1-tty[row]/H, name, ha='center', va='center', fontsize=6, color='#111111')
    fig.text(xc/W, 1-(b+26)/H, xlabel, ha='center', va='center', fontsize=5, color='#111111')
    fig.text(ylx[col]/W, 1-(t+b)/2/H, ylabel, ha='center', va='center', rotation=90,
             fontsize=5.1, color='#111111', linespacing=1.15)

def lab(vals):
    return [('%.1f' % v) for v in vals]
def labi(vals):
    return [('%d' % v) for v in vals]

x_a1 = [1.0,1.5,2.0,2.5,3.0]; xl_a1 = ['1.0','','2.0','','3.0']
panel(0,0,names[0],ylabel_d,a1_x,a1_d,100,a1_d_out,a1_d_s,(.86,3.45),(-.694,.297),x_a1,xl_a1,[.2,0,-.2,-.4,-.6],lab([.2,0,-.2,-.4,-.6]))
panel(1,0,names[0],ylabel_p,a1_x,a1_p,1,a1_p_out,a1_p_s,(.88,3.41),(-31.4,12.8),x_a1,xl_a1,[10,0,-10,-20,-30],labi([10,0,-10,-20,-30]))
x_a2 = [2,3,4,5]; xl_a2 = ['2','3','4','5']
panel(2,0,names[1],ylabel_d,a2_x,a2_d,100,a2_d_out,a2_d_s,(1.43,5.43),(-.668,.57),x_a2,xl_a2,[.4,.2,0,-.2,-.4,-.6],lab([.4,.2,0,-.2,-.4,-.6]))
panel(3,0,names[1],ylabel_p,a2_x,a2_p,1,a2_p_out,a2_p_s,(1.43,5.43),(-16.05,13.4),x_a2,xl_a2,[10,0,-10],labi([10,0,-10]))

x_a3 = [1.5,2,2.5,3,3.5]; xl_a3 = ['1.5','','2.5','','3.5']
panel(0,1,names[2],ylabel_d,a3_x,a3_d,100,a3_d_out,a3_d_s,(1.22,3.98),(-1.006,.88),x_a3,xl_a3,[.8,.6,.4,.2,0,-.2,-.4,-.6,-.8,-1],lab([.8,.6,.4,.2,0,-.2,-.4,-.6,-.8,-1]))
panel(1,1,names[2],ylabel_p,a3_x,a3_p,1,a3_p_out,a3_p_s,(1.22,3.98),(-31,26.8),x_a3,xl_a3,[20,10,0,-10,-20,-30],labi([20,10,0,-10,-20,-30]))
x_a4 = [1.5,2,2.5,3,3.5,4,4.5]; xl_a4 = ['1.5','','2.5','','3.5','','4.5']
panel(2,1,names[3],ylabel_d,a4_x,a4_d,100,a4_d_out,a4_d_s,(.97,4.55),(-1.18,.77),x_a4,xl_a4,[.6,.4,.2,0,-.2,-.4,-.6,-.8,-1],lab([.6,.4,.2,0,-.2,-.4,-.6,-.8,-1]))
panel(3,1,names[3],ylabel_p,a4_x,a4_p,1,a4_p_out,a4_p_s,(.97,4.55),(-38.2,47.5),x_a4,xl_a4,[40,30,20,10,0,-10,-20,-30],labi([40,30,20,10,0,-10,-20,-30]))

x_b1 = [1.0,1.5,2.0,2.5,3.0]; xl_b1 = ['1.0','','2.0','','']
panel(0,2,names[4],ylabel_d,b1_x,b1_d,100,b1_d_out,b1_d_s,(.82,3.01),(-.845,.744),x_b1,xl_b1,[.6,.4,.2,0,-.2,-.4,-.6,-.8],lab([.6,.4,.2,0,-.2,-.4,-.6,-.8]))
panel(1,2,names[4],ylabel_p,b1_x,b1_p,1,b1_p_out,b1_p_s,(.82,3.01),(-38.5,28.1),x_b1,xl_b1,[20,10,0,-10,-20,-30],labi([20,10,0,-10,-20,-30]))
x_b2 = [1.5,2,2.5,3,3.5,4,4.5,5]; xl_b2 = ['1.5','','','3.0','','','4.5','']
panel(2,2,names[5],ylabel_d,b2_x,b2_d,100,b2_d_out,b2_d_s,(1.32,5.06),(-.93,.618),x_b2,xl_b2,[.6,.4,.2,0,-.2,-.4,-.6,-.8],lab([.6,.4,.2,0,-.2,-.4,-.6,-.8]))
panel(3,2,names[5],ylabel_p,b2_x,b2_p,1,b2_p_out,b2_p_s,(1.32,5.06),(-23.4,18.8),x_b2,xl_b2,[10,0,-10,-20],labi([10,0,-10,-20]))

x_b3 = [1,1.5,2,2.5,3,3.5,4]; xl_b3 = ['1.0','','2.0','','3.0','','4.0']
panel(0,3,names[6],ylabel_d,b3_x,b3_d,100,b3_d_out,b3_d_s,(.96,4.08),(-.923,.668),x_b3,xl_b3,[.6,.4,.2,0,-.2,-.4,-.6,-.8],lab([.6,.4,.2,0,-.2,-.4,-.6,-.8]))
panel(1,3,names[6],ylabel_p,b3_x,b3_p,1,b3_p_out,b3_p_s,(.96,4.08),(-40.6,30.9),x_b3,xl_b3,[30,20,10,0,-10,-20,-30,-40],labi([30,20,10,0,-10,-20,-30,-40]))
panel(2,3,names[7],ylabel_d,b4_x,b4_d,100,b4_d_out,b4_d_s,(.84,4.3),(-1.033,.795),x_b3,xl_b3,[.6,.4,.2,0,-.2,-.4,-.6,-.8,-1],lab([.6,.4,.2,0,-.2,-.4,-.6,-.8,-1]))
panel(3,3,names[7],ylabel_p,b4_x,b4_p,1,b4_p_out,b4_p_s,(.84,4.3),(-37.3,51.5),x_b3,xl_b3,[50,40,30,20,10,0,-10,-20,-30],labi([50,40,30,20,10,0,-10,-20,-30]))

fig.text(17/W, 1-12/H, "A", ha='center', va='center', fontsize=11, fontweight='bold', color='black')
fig.text(17/W, 1-357/H, "B", ha='center', va='center', fontsize=11, fontweight='bold', color='black')

fig.savefig("out.png", dpi=100, facecolor='white')
